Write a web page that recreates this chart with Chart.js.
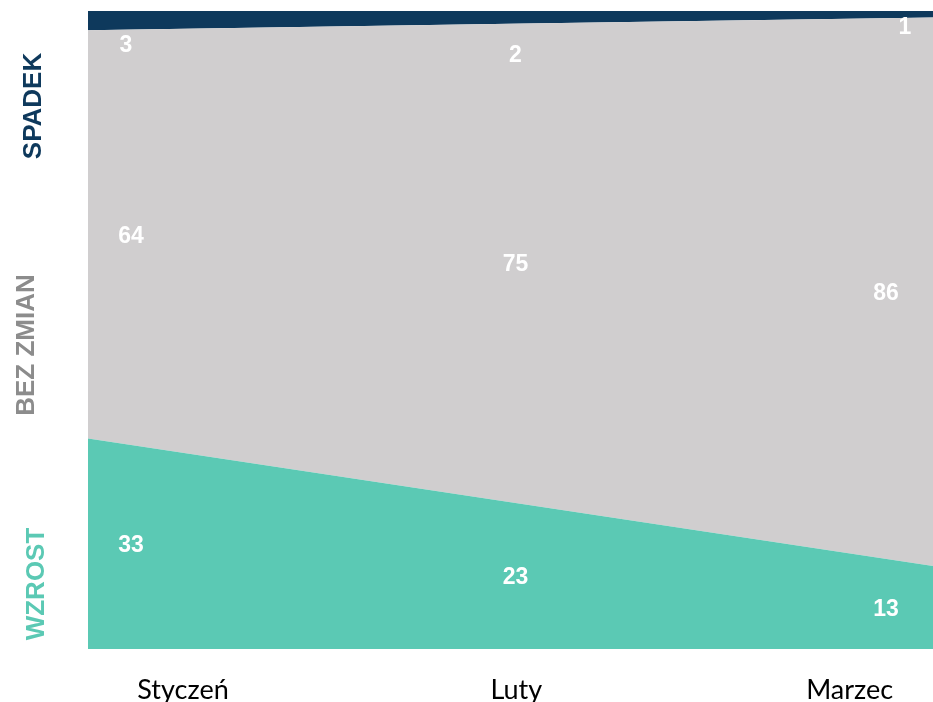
<!DOCTYPE html>
<html lang="pl">
<head>
<meta charset="utf-8">
<title>Zmiana – Styczeń–Marzec</title>
<script src="https://cdn.jsdelivr.net/npm/chart.js@4/dist/chart.umd.min.js"></script>
<style>
    html, body { margin: 0; padding: 0; background: #fff; }
    .chart-box { position: relative; width: 933px; height: 702px; }
</style>
</head>
<body>
<div class="chart-box">
    <canvas id="trendChart"></canvas>
</div>
<script>
// Months on the x axis
const months = ['Styczeń', 'Luty', 'Marzec'];

// Share of answers per month (%)
const wzrost = [33, 23, 13];
const bezZmian = [64, 75, 86];
const spadek = [3, 2, 1];

// Series colours
const colors = {
    wzrost: '#5BC9B4',
    bezZmian: '#D0CECF',
    spadek: '#0E395C',
    bezZmianText: '#8C8C8C'
};

// Value label nudges (px) so labels sit clear of the plot edges
const labelShiftX = [43, 5, -47];
const labelShiftY = 2;
const topLabelShift = { dx: [-5, 0, 19], dy: [23, 36, 11] };

// White value labels centred inside each stacked band
const bandLabels = {
    id: 'bandLabels',
    afterDatasetsDraw(chart) {
        const ctx = chart.ctx;
        const yScale = chart.scales.y;
        ctx.save();
        ctx.fillStyle = '#fff';
        ctx.font = 'bold 23px "Liberation Sans", Arial, sans-serif';
        ctx.textAlign = 'center';
        ctx.textBaseline = 'middle';
        chart.data.datasets.forEach((ds, d) => {
            const meta = chart.getDatasetMeta(d);
            meta.data.forEach((pt, i) => {
                const base = d === 0 ? yScale.getPixelForValue(0) : chart.getDatasetMeta(d - 1).data[i].y;
                let x = pt.x + labelShiftX[i];
                let y = (pt.y + base) / 2 + labelShiftY;
                if (d === chart.data.datasets.length - 1) {
                    x += topLabelShift.dx[i];
                    y += topLabelShift.dy[i];
                }
                ctx.fillText(ds.data[i], x, y);
            });
        });
        ctx.restore();
    }
};

// Rotated series names on the left side
const sideNames = {
    id: 'sideNames',
    afterDraw(chart) {
        const ctx = chart.ctx;
        const names = [
            { text: 'SPADEK', color: colors.spadek, x: 34, y: 106 },
            { text: 'BEZ ZMIAN', color: colors.bezZmianText, x: 27, y: 345 },
            { text: 'WZROST', color: colors.wzrost, x: 37, y: 584 }
        ];
        ctx.save();
        ctx.font = 'bold 26px "Liberation Sans", Arial, sans-serif';
        ctx.textAlign = 'center';
        ctx.textBaseline = 'middle';
        names.forEach(n => {
            ctx.save();
            ctx.translate(n.x, n.y);
            ctx.rotate(-Math.PI / 2);
            ctx.fillStyle = n.color;
            ctx.fillText(n.text, 0, 0);
            ctx.restore();
        });
        ctx.restore();
    }
};

function areaSet(label, data, color, fill) {
    return {
        label: label,
        data: data,
        backgroundColor: color,
        borderColor: color,
        borderWidth: 0,
        pointRadius: 0,
        pointHoverRadius: 0,
        tension: 0,
        fill: fill
    };
}

new Chart(document.getElementById('trendChart'), {
    type: 'line',
    data: {
        labels: months,
        datasets: [
            areaSet('WZROST', wzrost, colors.wzrost, 'origin'),
            areaSet('BEZ ZMIAN', bezZmian, colors.bezZmian, '-1'),
            areaSet('SPADEK', spadek, colors.spadek, '-1')
        ]
    },
    options: {
        responsive: true,
        maintainAspectRatio: false,
        animation: false,
        layout: {
            padding: { left: 88, top: 11, right: 0, bottom: 0 }
        },
        plugins: {
            legend: { display: false },
            tooltip: { enabled: false }
        },
        scales: {
            x: {
                display: false,
                offset: false
            },
            // Month names sit a little inside the first and last points
            monthAxis: {
                type: 'linear',
                position: 'bottom',
                min: -0.285,
                max: 2.25,
                afterBuildTicks: axis => {
                    axis.ticks = months.map((m, i) => ({ value: i }));
                },
                afterFit: axis => {
                    axis.height = 53;
                },
                grid: { display: false },
                border: { display: false },
                ticks: {
                    padding: 17,
                    color: '#000',
                    maxRotation: 0,
                    font: { family: 'Lato, "Open Sans", sans-serif', size: 27 },
                    callback: value => months[value]
                }
            },
            y: {
                display: false,
                stacked: true,
                min: 0,
                max: 100
            }
        }
    },
    plugins: [bandLabels, sideNames]
});
</script>
</body>
</html>
